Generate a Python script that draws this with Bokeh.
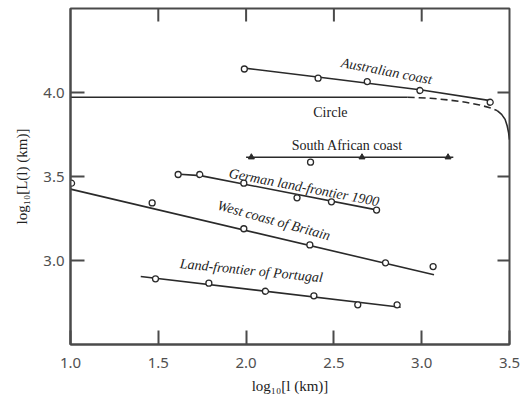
from bokeh.plotting import figure
from bokeh.models import Range1d, FixedTicker, ColumnDataSource, NumeralTickFormatter
from bokeh.core.properties import value
from bokeh.embed import file_html
from bokeh.resources import INLINE

# ---- data (log10 ruler length, log10 total length) ----
aus_x = [1.99, 2.41, 2.69, 2.99, 3.39]
aus_y = [4.14, 4.085, 4.065, 4.012, 3.942]
aus_line_x = [1.99, 2.5, 3.0, 3.40]
aus_line_y = [4.145, 4.08, 4.015, 3.95]

circle_line_x = [1.0, 2.92]
circle_line_y = [3.972, 3.972]
circle_dash_x = [2.92, 3.05, 3.15, 3.25, 3.33, 3.40, 3.43]
circle_dash_y = [3.972, 3.966, 3.956, 3.942, 3.926, 3.906, 3.892]
circle_end_x = [3.43, 3.455, 3.475, 3.487, 3.495, 3.50]
circle_end_y = [3.892, 3.87, 3.84, 3.80, 3.76, 3.72]

sa_x = [2.03, 2.66, 3.15]
sa_y = [3.615, 3.615, 3.615]
sa_low_x = [2.367]
sa_low_y = [3.585]
sa_line_x = [2.0, 3.18]
sa_line_y = [3.615, 3.615]

ger_x = [1.613, 1.736, 1.987, 2.29, 2.486, 2.743]
ger_y = [3.512, 3.512, 3.46, 3.373, 3.349, 3.30]
ger_line_x = [1.60, 1.74, 2.75]
ger_line_y = [3.515, 3.505, 3.30]

brit_x = [1.006, 1.465, 1.987, 2.363, 2.794, 3.065]
brit_y = [3.46, 3.343, 3.189, 3.093, 2.986, 2.964]
brit_line_x = [1.0, 3.07]
brit_line_y = [3.425, 2.915]

port_x = [1.484, 1.788, 2.11, 2.386, 2.636, 2.86]
port_y = [2.891, 2.865, 2.817, 2.79, 2.736, 2.736]
port_line_x = [1.40, 2.88]
port_line_y = [2.905, 2.722]

x_min, x_max = 1.0, 3.5
y_min, y_max = 2.5, 4.5
x_ticks = [1.0, 1.5, 2.0, 2.5, 3.0, 3.5]
y_ticks = [3.0, 3.5, 4.0]
top_ticks = [1.5, 2.0, 2.5, 3.0]

italic_labels = ["Australian coast", "German land-frontier 1900",
                 "West coast of Britain", "Land-frontier of Portugal"]
italic_x = [2.80, 2.33, 2.158, 2.03]
italic_y = [4.127, 3.435, 3.238, 2.94]
italic_angle = [-0.19, -0.19, -0.27, -0.10]

upright_labels = ["Circle", "South African coast"]
upright_x = [2.48, 2.576]
upright_y = [3.88, 3.685]

LINE = "#2a2a2a"
AX = "#4a4a4a"

p = figure(width=525, height=403, x_range=Range1d(x_min, x_max), y_range=Range1d(y_min, y_max),
           output_backend="svg", toolbar_location=None,
           min_border_left=70, min_border_right=16, min_border_top=8, min_border_bottom=59)
p.grid.visible = False
p.outline_line_color = AX
p.outline_line_width = 2
p.background_fill_color = "white"


def style(ax, ticks):
    ax.ticker = FixedTicker(ticks=ticks)
    ax.formatter = NumeralTickFormatter(format="0.0")
    ax.major_tick_in = 14
    ax.major_tick_out = 0
    ax.minor_tick_line_color = None
    ax.major_tick_line_color = AX
    ax.major_tick_line_width = 2
    ax.axis_line_color = AX
    ax.axis_line_width = 2
    ax.major_label_text_font = "Noto Sans"
    ax.major_label_text_font_size = "15px"
    ax.major_label_text_color = "#505050"
    ax.axis_label_text_font = "Liberation Serif"
    ax.axis_label_text_font_size = "15px"
    ax.axis_label_text_font_style = "normal"
    ax.axis_label_text_color = "#222222"


style(p.xaxis[0], x_ticks)
p.xaxis[0].axis_label = "log₁₀[l (km)]"
p.xaxis[0].major_label_standoff = 13
p.xaxis[0].axis_label_standoff = 7

style(p.yaxis[0], y_ticks)
p.yaxis[0].axis_label = "log₁₀[L(l) (km)]"
p.yaxis[0].major_label_standoff = 6
p.yaxis[0].axis_label_standoff = 10

# inward ticks on the top and right frame edges (screen-length rays)
p.ray(x=top_ticks, y=[y_max] * len(top_ticks), length=13, length_units="screen",
      angle=-90, angle_units="deg", line_color=AX, line_width=2)
p.ray(x=[x_max] * len(y_ticks), y=y_ticks, length=12, length_units="screen",
      angle=180, angle_units="deg", line_color=AX, line_width=2)

# lines
for lx, ly in [(aus_line_x, aus_line_y), (circle_line_x, circle_line_y),
               (circle_end_x, circle_end_y), (sa_line_x, sa_line_y),
               (ger_line_x, ger_line_y), (brit_line_x, brit_line_y),
               (port_line_x, port_line_y)]:
    p.line(lx, ly, line_color=LINE, line_width=1.6)
p.line(circle_dash_x, circle_dash_y, line_color=LINE, line_width=1.6, line_dash="7 4")

# markers
for mx, my in [(aus_x, aus_y), (ger_x, ger_y), (brit_x, brit_y), (port_x, port_y), (sa_low_x, sa_low_y)]:
    p.scatter(mx, my, marker="circle", size=6, fill_color="white", line_color=LINE, line_width=1.3)
p.scatter(sa_x, sa_y, marker="triangle", size=6, fill_color=LINE, line_color=LINE)

# labels
src_i = ColumnDataSource(dict(x=italic_x, y=italic_y, t=italic_labels, a=italic_angle))
p.text(x="x", y="y", text="t", angle="a", source=src_i, text_font=value("Liberation Serif"),
       text_font_style="italic", text_font_size="14px", text_color="#222222",
       text_align="center", text_baseline="middle")
src_u = ColumnDataSource(dict(x=upright_x, y=upright_y, t=upright_labels))
p.text(x="x", y="y", text="t", source=src_u, text_font=value("Liberation Serif"),
       text_font_size="14px", text_color="#222222",
       text_align="center", text_baseline="middle")

open("out.html", "w").write(file_html(p, INLINE))
